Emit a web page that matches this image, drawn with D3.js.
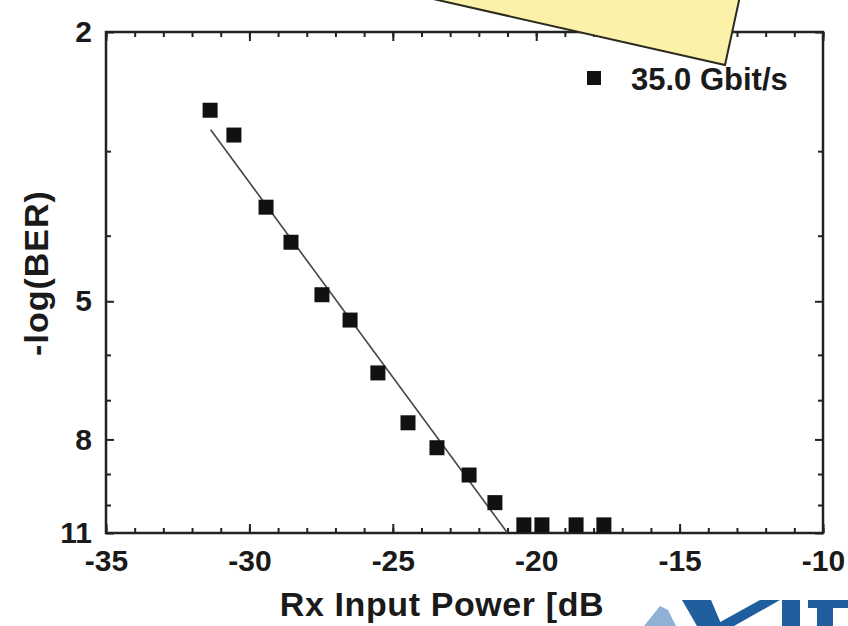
<!DOCTYPE html>
<html>
<head>
<meta charset="utf-8">
<script src="https://cdn.jsdelivr.net/npm/d3@7"></script>
<style>
  body { margin: 0; background: #fff; }
  svg text { font-family: "Liberation Sans", Arial, sans-serif; font-weight: bold; fill: #1a1a1a; }
</style>
</head>
<body>
<svg id="chart" width="848" height="626"></svg>
<script>
// measured points, 35.0 Gbit/s
const rxPower = [-31.37, -30.54, -29.42, -28.55, -27.47, -26.49, -25.52, -24.47,
                 -23.46, -22.34, -21.44, -20.43, -19.8, -18.61, -17.64];
const negLogBer = [2.61, 2.84, 3.63, 4.09, 4.89, 5.33, 6.38, 7.56,
                   8.23, 9.03, 9.92, 10.7, 10.7, 10.7, 10.7];
// linear fit ends
const fitX = [-31.35, -21.0];
const fitY = [2.79, 11];

const xTicks = [-35, -30, -25, -20, -15, -10];
const xMinor = d3.range(-35, -9, 1);
const yTicks = [2, 5, 8, 11];
const yMinor = [3, 4, 6, 7, 9, 10];
const legendLabel = '35.0 Gbit/s';

var svg = d3.select('#chart');
var mLeft = 106, mRight = 823, mTop = 32, mBottom = 533;
var x = d3.scaleLinear().domain([-35, -10]).range([mLeft, mRight]);
var y = d3.scaleLog().domain([2, 11]).range([mTop, mBottom]);

function styleAxis(g) {
    g.select('.domain').remove();
    g.selectAll('line').attr('stroke', '#222').attr('stroke-width', 2);
    g.selectAll('text').style('font-size', '30px').attr('fill', '#1a1a1a');
}
var plain = function (d) { return String(d); };

// ticks (all pointing inwards)
svg.append('g').attr('transform', 'translate(0,' + mBottom + ')')
    .call(d3.axisBottom(x).tickValues(xMinor).tickSize(-5).tickFormat(''))
    .call(styleAxis);
svg.append('g').attr('transform', 'translate(0,' + mBottom + ')')
    .call(d3.axisBottom(x).tickValues(xTicks).tickSize(-9).tickPadding(17).tickFormat(plain))
    .call(styleAxis);
svg.append('g').attr('transform', 'translate(0,' + mTop + ')')
    .call(d3.axisTop(x).tickValues(xMinor).tickSize(-5).tickFormat(''))
    .call(styleAxis);
svg.append('g').attr('transform', 'translate(0,' + mTop + ')')
    .call(d3.axisTop(x).tickValues(xTicks).tickSize(-9).tickFormat(''))
    .call(styleAxis);
svg.append('g').attr('transform', 'translate(' + mLeft + ',0)')
    .call(d3.axisLeft(y).tickValues(yMinor).tickSize(-5).tickFormat(''))
    .call(styleAxis);
svg.append('g').attr('transform', 'translate(' + mLeft + ',0)')
    .call(d3.axisLeft(y).tickValues(yTicks).tickSize(-8).tickPadding(14).tickFormat(plain))
    .call(styleAxis);
svg.append('g').attr('transform', 'translate(' + mRight + ',0)')
    .call(d3.axisRight(y).tickValues(yMinor).tickSize(-5).tickFormat(''))
    .call(styleAxis);
svg.append('g').attr('transform', 'translate(' + mRight + ',0)')
    .call(d3.axisRight(y).tickValues(yTicks).tickSize(-8).tickFormat(''))
    .call(styleAxis);

// frame
svg.append('rect')
    .attr('x', mLeft).attr('y', mTop)
    .attr('width', mRight - mLeft).attr('height', mBottom - mTop)
    .attr('fill', 'none').attr('stroke', '#222').attr('stroke-width', 2.5);

// fit line
var line = d3.line().x(function (d) { return x(d[0]); }).y(function (d) { return y(d[1]); });
svg.append('path')
    .datum(d3.zip(fitX, fitY))
    .attr('d', line)
    .attr('fill', 'none').attr('stroke', '#444').attr('stroke-width', 1.6);

// squares
var size = 15;
svg.append('g').selectAll('rect')
    .data(d3.zip(rxPower, negLogBer)).enter().append('rect')
    .attr('x', function (d) { return x(d[0]) - size / 2; })
    .attr('y', function (d) { return y(d[1]) - size / 2; })
    .attr('width', size).attr('height', size)
    .attr('fill', '#111');

// legend
svg.append('rect').attr('x', 587).attr('y', 71).attr('width', 14).attr('height', 14).attr('fill', '#111');
svg.append('text').attr('x', 631).attr('y', 90).style('font-size', '31px').text(legendLabel);

// axis titles
svg.append('text')
    .attr('x', 442).attr('y', 616)
    .attr('text-anchor', 'middle')
    .style('font-size', '34px').style('letter-spacing', '0.6px')
    .text('Rx Input Power [dB');
svg.append('text')
    .attr('transform', 'translate(48,273) rotate(-90)')
    .attr('text-anchor', 'middle')
    .style('font-size', '34px').style('letter-spacing', '1px')
    .text('-log(BER)');

// yellow callout covering the top edge
svg.append('path')
    .attr('d', 'M420,-4 L725,65 L740,-4 Z')
    .attr('fill', '#fcf1a9').attr('stroke', 'none');
svg.append('path')
    .attr('d', 'M420,-4 L725,65 L740,-4')
    .attr('fill', 'none').attr('stroke', '#2b2b1f').attr('stroke-width', 2);

// KIT logo fragment
var logo = svg.append('g');
logo.append('path').attr('d', 'M644,626 L660,606 L668,610 L676,626 Z').attr('fill', '#8fb1d6');
logo.append('path').attr('d', 'M682,600 L711,600 L722,626 L697,626 Z').attr('fill', '#1f5f9d');
logo.append('path').attr('d', 'M713,626 L734,626 L780,600 L760,600 Z').attr('fill', '#1f5f9d');
logo.append('rect').attr('x', 782).attr('y', 600).attr('width', 18).attr('height', 26).attr('fill', '#1f5f9d');
logo.append('rect').attr('x', 808).attr('y', 600).attr('width', 40).attr('height', 8).attr('fill', '#1f5f9d');
logo.append('rect').attr('x', 817).attr('y', 608).attr('width', 16).attr('height', 18).attr('fill', '#1f5f9d');
</script>
</body>
</html>
